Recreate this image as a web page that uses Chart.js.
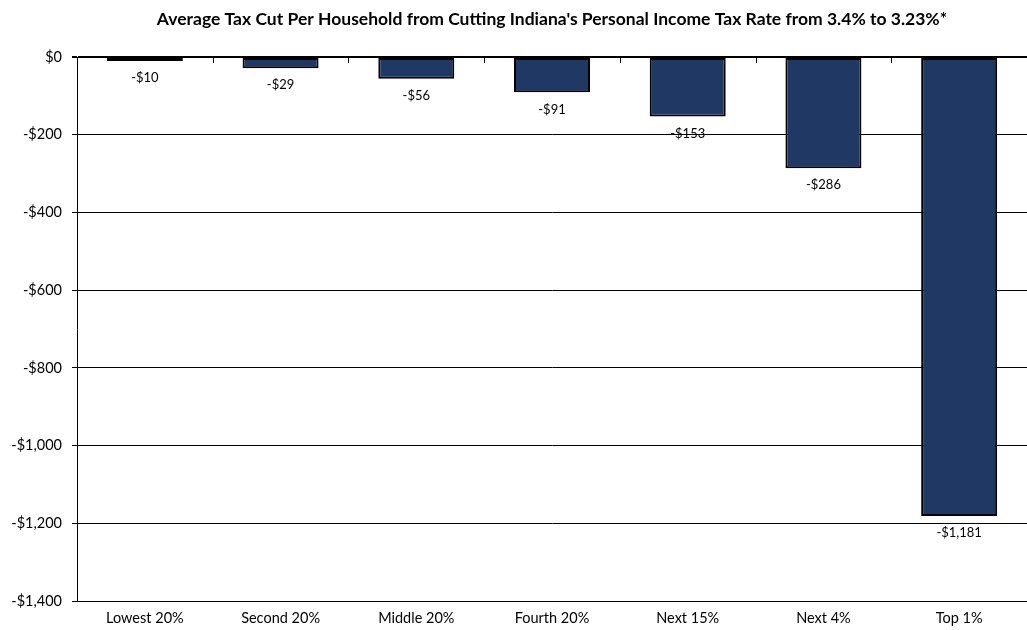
<!DOCTYPE html>
<html>
<head>
  <meta charset="UTF-8">
  <title>Average Tax Cut Per Household</title>
  <script src="https://cdn.jsdelivr.net/npm/chart.js@4.4.1/dist/chart.umd.min.js"></script>
</head>
<body style="margin:0;background:#fff;">

<style type="text/css">
  .chartBox {
    width: 1027px;
    height: 630px;
  }
</style>

<div class="chartBox">
  <canvas id="myChart"></canvas>
</div>

<script>
const categories = ['Lowest 20%', 'Second 20%', 'Middle 20%', 'Fourth 20%', 'Next 15%', 'Next 4%', 'Top 1%'];
const tax_cut = [-10, -29, -56, -91, -153, -286, -1181];
const title_text = "Average Tax Cut Per Household from Cutting Indiana's Personal Income Tax Rate from 3.4% to 3.23%*";

const money = (v) => (v < 0 ? '-$' : '$') + Math.abs(v).toLocaleString('en-US');

// labels under each bar, like excel data labels,
// plus the small category tick marks hanging off the $0 line
const barLabels = {
  id: 'barLabels',
  afterDatasetsDraw(chart) {
    const ctx = chart.ctx;
    const meta = chart.getDatasetMeta(0);
    const xs = chart.scales.x;
    const y0 = chart.scales.y.getPixelForValue(0);
    ctx.save();
    ctx.strokeStyle = '#000';
    ctx.lineWidth = 1;
    ctx.beginPath();
    for (let i = 0; i < categories.length - 1; i++) {
      const bx = Math.round((xs.getPixelForValue(i) + xs.getPixelForValue(i + 1)) / 2) + 0.5;
      ctx.moveTo(bx, y0);
      ctx.lineTo(bx, y0 + 6);
    }
    ctx.stroke();

    ctx.font = '13px Lato';
    ctx.fillStyle = '#000';
    ctx.textAlign = 'center';
    ctx.textBaseline = 'middle';
    meta.data.forEach((bar, i) => {
      ctx.fillText(money(tax_cut[i]), bar.x, bar.y + 17);
    });
    ctx.restore();
  }
};

const ctx = document.getElementById('myChart').getContext('2d');
const myChart = new Chart(ctx, {
    type: 'bar',
    data: {
        labels: categories,
        datasets: [{
            data: tax_cut,
            backgroundColor: '#1f3864',
            borderColor: '#000',
            borderWidth: 2,
            borderSkipped: false,
            barPercentage: 0.56,
            categoryPercentage: 1,
        }]
    },
    plugins: [barLabels],
    options: {
        responsive: true,
        maintainAspectRatio: false,
        animation: false,
        layout: {
          padding: { left: 0, right: 0, top: 0, bottom: 0 }
        },
        scales: {
            x: {
                afterFit: (scale) => { scale.height = 29; },
                grid: { display: false, drawTicks: false },
                border: { color: '#000', width: 1 },
                ticks: {
                  color: '#000',
                  font: { family: 'Lato', size: 14.5 },
                  padding: 9
                }
            },
            y: {
                min: -1400,
                max: 0,
                afterFit: (scale) => { scale.width = 77; },
                grid: {
                  color: '#000',
                  lineWidth: (c) => (c.tick && c.tick.value === 0 ? 2 : 1),
                  tickLength: 5
                },
                border: { color: '#000', width: 1 },
                ticks: {
                  stepSize: 200,
                  color: '#000',
                  padding: 10,
                  font: { family: 'Lato', size: 14.5 },
                  callback: (v) => money(v)
                }
            }
        },
        plugins: {
          legend: { display: false },
          tooltip: { enabled: false },
          title: {
            display: true,
            fullSize: false,
            text: title_text,
            color: '#000',
            font: { family: 'Lato', size: 17.5, weight: 'bold' },
            padding: { top: 9, bottom: 27 }
          }
        }
    }
});
</script>

</body>
</html>
